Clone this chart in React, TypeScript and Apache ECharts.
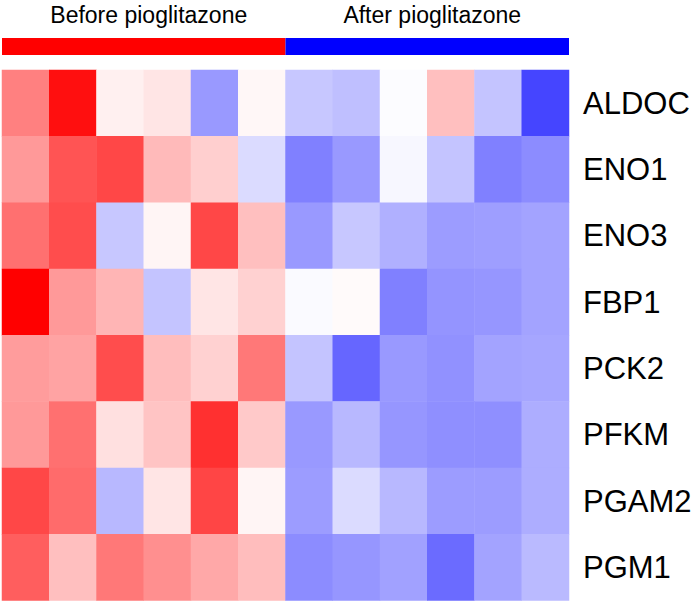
import React, { useEffect, useRef } from "react";
import * as echarts from "echarts";

// Genes (rows, top to bottom) and samples (columns, left to right)
const genes = ["ALDOC", "ENO1", "ENO3", "FBP1", "PCK2", "PFKM", "PGAM2", "PGM1"];
const samples = ["B1", "B2", "B3", "B4", "B5", "B6", "A1", "A2", "A3", "A4", "A5", "A6"];

// Sample groups and their sizes (columns per group)
const groups = ["Before pioglitazone", "After pioglitazone"];
const groupSizes = [6, 6];
const groupColors = ["#ff0000", "#0000ff"];

// Scaled expression per gene (-1 = lowest, blue; 1 = highest, red)
const ALDOC = [0.5, 0.94, 0.06, 0.1, -0.4, 0.03, -0.22, -0.25, -0.01, 0.25, -0.23, -0.73];
const ENO1 = [0.4, 0.67, 0.72, 0.27, 0.19, -0.14, -0.5, -0.4, -0.03, -0.23, -0.5, -0.45];
const ENO3 = [0.56, 0.7, -0.22, 0.04, 0.72, 0.25, -0.4, -0.22, -0.31, -0.39, -0.38, -0.36];
const FBP1 = [1.0, 0.4, 0.29, -0.23, 0.1, 0.18, -0.02, 0.02, -0.5, -0.42, -0.41, -0.36];
const PCK2 = [0.39, 0.36, 0.7, 0.26, 0.18, 0.53, -0.23, -0.6, -0.4, -0.43, -0.36, -0.35];
const PFKM = [0.4, 0.56, 0.12, 0.23, 0.81, 0.21, -0.4, -0.28, -0.41, -0.44, -0.44, -0.32];
const PGAM2 = [0.72, 0.58, -0.28, 0.1, 0.73, 0.04, -0.39, -0.14, -0.28, -0.39, -0.39, -0.32];
const PGM1 = [0.63, 0.25, 0.53, 0.44, 0.34, 0.26, -0.45, -0.41, -0.37, -0.58, -0.36, -0.27];

const rows = [ALDOC, ENO1, ENO3, FBP1, PCK2, PFKM, PGAM2, PGM1];

const FONT = 'Arial, "Liberation Sans", sans-serif';

export default function App() {
  const ref = useRef<HTMLDivElement>(null);

  useEffect(() => {
    document.body.style.margin = "0";
    if (!ref.current) return;
    const chart = echarts.init(ref.current, undefined, { renderer: "svg" });

    const cells: [number, number, number][] = [];
    rows.forEach((vals, r) => vals.forEach((v, c) => cells.push([c, r, v])));

    const total = groupSizes.reduce((a, b) => a + b, 0);

    chart.setOption({
      animation: false,
      backgroundColor: "#ffffff",
      grid: [
        { left: 2, top: 70, width: 567, height: 530.5 },
        { left: 2, top: 38, width: 567, height: 17 },
      ],
      xAxis: [
        { type: "category", gridIndex: 0, data: samples, show: false },
        { type: "value", gridIndex: 1, min: 0, max: total, show: false },
      ],
      yAxis: [
        {
          type: "category",
          gridIndex: 0,
          data: genes,
          inverse: true,
          position: "right",
          axisLine: { show: false },
          axisTick: { show: false },
          splitLine: { show: false },
          axisLabel: { color: "#000", fontSize: 31, fontFamily: FONT, margin: 14 },
        },
        { type: "category", gridIndex: 1, data: ["group"], show: false },
      ],
      visualMap: {
        show: false,
        seriesIndex: 0,
        min: -1,
        max: 1,
        inRange: { color: ["#0000ff", "#ffffff", "#ff0000"] },
      },
      series: [
        {
          type: "heatmap",
          xAxisIndex: 0,
          yAxisIndex: 0,
          data: cells,
          itemStyle: { borderWidth: 0 },
          emphasis: { disabled: true },
        },
        ...groups.map((g, i) => ({
          type: "bar",
          name: g,
          xAxisIndex: 1,
          yAxisIndex: 1,
          stack: "groups",
          barWidth: "100%",
          data: [groupSizes[i]],
          itemStyle: { color: groupColors[i] },
          label: {
            show: true,
            position: "top",
            distance: 12,
            offset: [5, 0],
            formatter: g,
            color: "#000",
            fontSize: 23,
            fontFamily: FONT,
          },
        })),
      ],
    });

    return () => chart.dispose();
  }, []);

  return <div ref={ref} style={{ width: 700, height: 603 }} />;
}
